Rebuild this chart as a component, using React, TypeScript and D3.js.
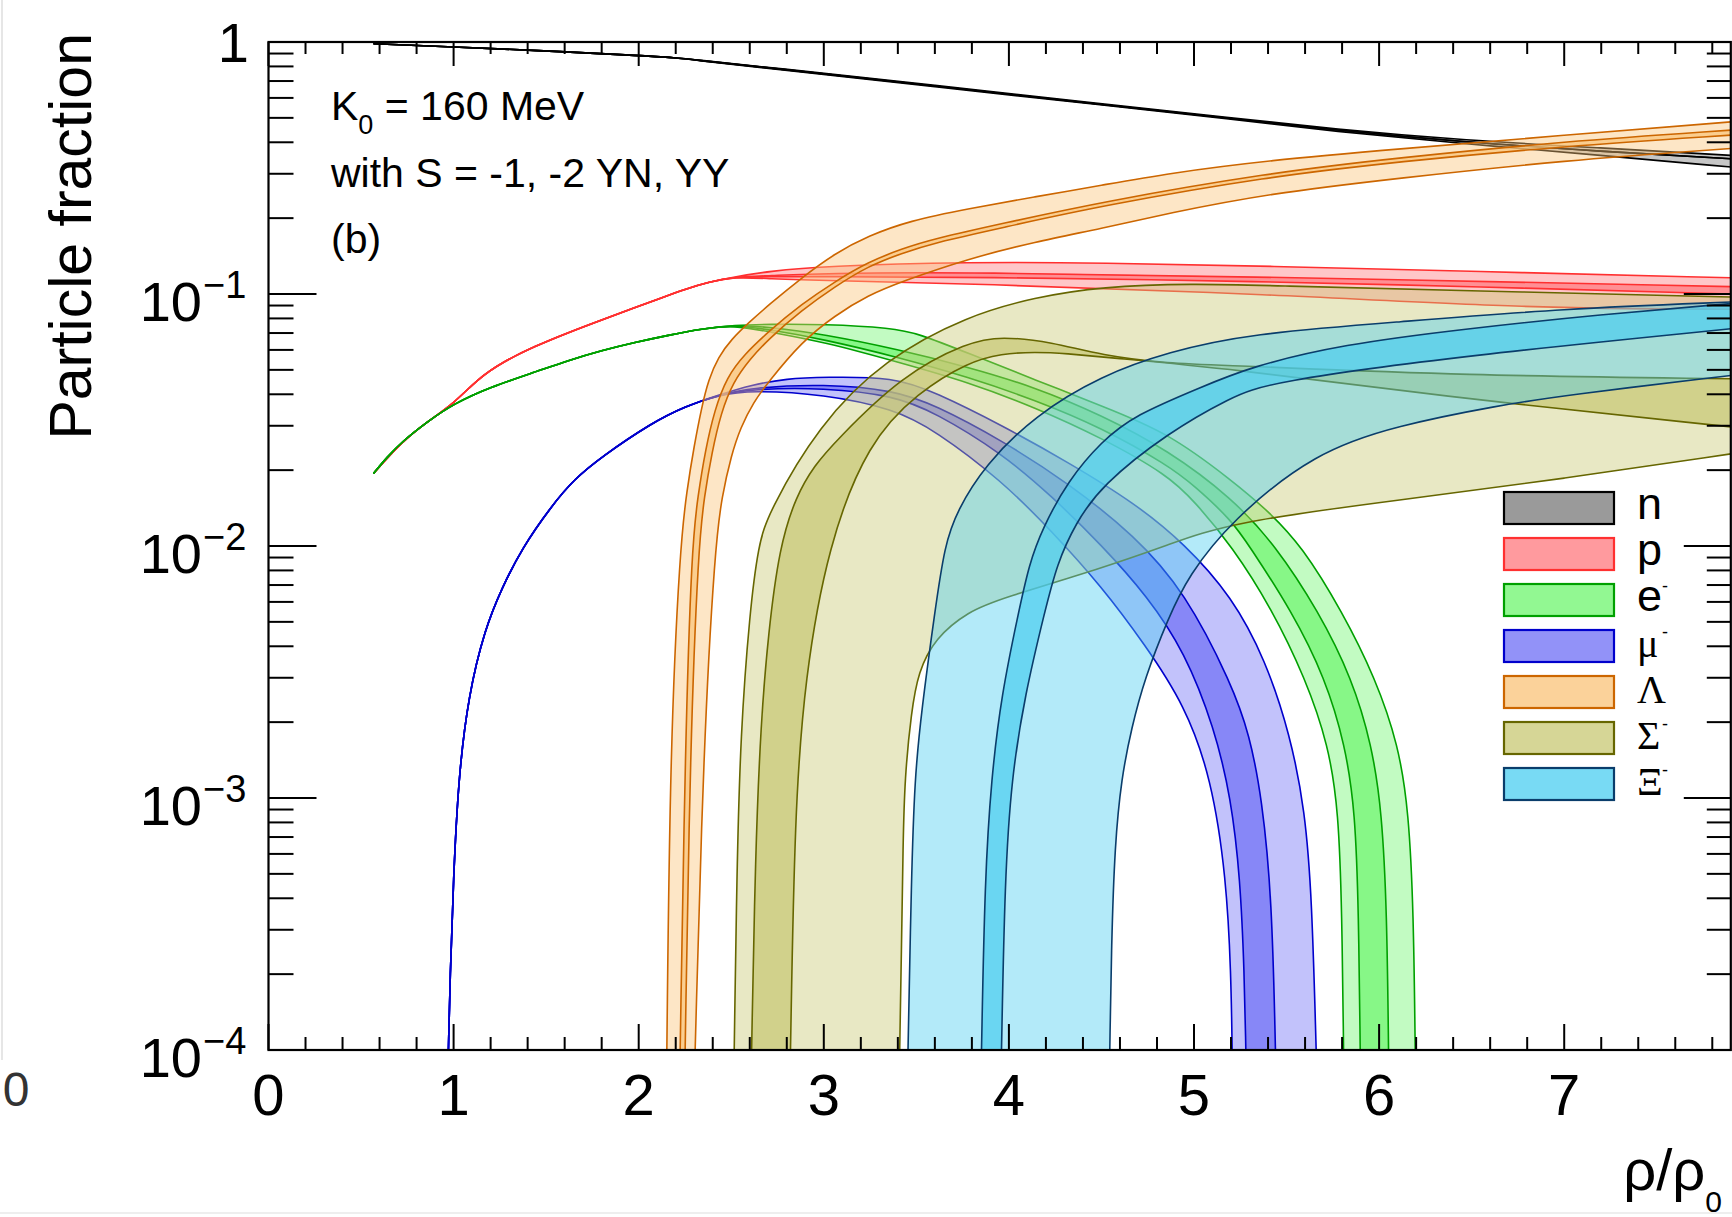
import React from 'react';
import * as d3 from 'd3';

const W = 1732;
const H = 1217;

// axis settings
const xDomain = [0, 7.9];
const yDomain = [1e-4, 1];
const xMajor = [0, 1, 2, 3, 4, 5, 6, 7];
const yDecadeExp = [0, -1, -2, -3, -4];

// ---- neutron ----
const nTop = [[0.567,0.985],[1.0,0.955],[1.44,0.927],[1.98,0.885],[2.2,0.867],[2.34,0.845],[2.7,0.794],[3.6,0.673],[4.5,0.569],[5.2,0.501],[5.75,0.452],[6.47,0.407],[7.2,0.380],[7.9,0.355]];
const nMid = [[0.567,0.985],[1.0,0.955],[1.44,0.927],[1.98,0.885],[2.2,0.867],[2.34,0.843],[2.7,0.79],[3.6,0.669],[4.5,0.565],[5.2,0.498],[5.75,0.448],[6.47,0.400],[7.2,0.368],[7.9,0.344]];
const nBottom = [[0.567,0.985],[1.0,0.955],[1.44,0.927],[1.98,0.885],[2.2,0.867],[2.34,0.840],[2.7,0.785],[3.6,0.665],[4.5,0.562],[5.2,0.495],[5.75,0.442],[6.47,0.394],[7.2,0.355],[7.9,0.319]];

// ---- proton ----
const pCommon = [[0.567,0.0194],[0.72,0.0259],[0.86,0.0312],[1.0,0.0367],[1.13,0.046],[1.26,0.0535],[1.44,0.0621],[1.62,0.0703],[1.8,0.0789],[1.98,0.0883],[2.12,0.0964],[2.25,0.1045],[2.38,0.1117],[2.52,0.117]];
const p1 = [...pCommon,[2.7,0.123],[3.0,0.129],[3.78,0.134],[4.5,0.133],[5.4,0.129],[6.5,0.123],[7.9,0.116]];
const p2 = [...pCommon,[2.7,0.118],[3.0,0.121],[3.78,0.122],[5.4,0.117],[7.9,0.107]];
const p3 = [...pCommon,[2.7,0.117],[3.0,0.117],[3.78,0.117],[5.4,0.112],[6.5,0.107],[7.9,0.100]];
const p4 = [...pCommon,[2.7,0.115],[3.0,0.113],[3.78,0.110],[5.4,0.100],[6.83,0.0875],[7.9,0.087]];

// ---- electron ----
const eCommon = [[0.567,0.0194],[0.64,0.0225],[0.72,0.0259],[0.86,0.0312],[1.0,0.0367],[1.2,0.0428],[1.44,0.049],[1.62,0.0545],[1.80,0.0597],[1.98,0.0643],[2.16,0.0686],[2.34,0.0728],[2.52,0.0752]];
const e1 = [...eCommon,[2.7,0.0759],[3.0,0.0759],[3.37,0.0733],[3.51,0.0697],[3.78,0.0582],[4.14,0.0457],[4.5,0.036],[4.86,0.0282],[5.205,0.0182],[5.40,0.0138],[5.583,0.0100],[5.80,0.0055],[5.98,0.00299],[6.105,0.00162],[6.16,0.000883],[6.186,0.000354],[6.195,0.0001]];
const e2 = [...eCommon,[2.7,0.0741],[3.0,0.0692],[3.4,0.0603],[3.78,0.0513],[4.14,0.0427],[4.5,0.0331],[4.86,0.024],[5.205,0.0155],[5.439,0.0101],[5.673,0.0055],[5.853,0.00299],[5.961,0.00162],[6.015,0.000883],[6.042,0.000354],[6.051,0.0001]];
const e3 = [...eCommon,[2.7,0.0724],[3.0,0.0661],[3.4,0.0562],[3.78,0.0468],[4.14,0.038],[4.5,0.0295],[4.86,0.0209],[5.0,0.0174],[5.205,0.0126],[5.295,0.0101],[5.529,0.0055],[5.709,0.00299],[5.817,0.00162],[5.871,0.000883],[5.889,0.000354],[5.898,0.0001]];
const e4 = [...eCommon,[2.7,0.0708],[3.0,0.0646],[3.4,0.0537],[3.78,0.0447],[4.14,0.0355],[4.5,0.0269],[4.86,0.0191],[5.0,0.0151],[5.205,0.0100],[5.421,0.00562],[5.601,0.00299],[5.727,0.00162],[5.781,0.000883],[5.799,0.000354],[5.808,0.0001]];

// ---- muon ----
const mCommon = [[0.972,0.0001],[0.981,0.000192],[0.999,0.000479],[1.026,0.0012],[1.08,0.00256],[1.17,0.00471],[1.26,0.00679],[1.369,0.0098],[1.53,0.01445],[1.65,0.01837],[1.80,0.0226],[2.07,0.0308],[2.25,0.0358],[2.43,0.0397]];
const m1 = [...mCommon,[2.61,0.0436],[2.8,0.0462],[3.0,0.0468],[3.38,0.0469],[3.6,0.0408],[3.96,0.0302],[4.32,0.0215],[4.68,0.0148],[4.95,0.0102],[5.205,0.0063],[5.385,0.00355],[5.52,0.00178],[5.6,0.00089],[5.637,0.0004],[5.66,0.0001]];
const m2 = [...mCommon,[2.61,0.0425],[3.0,0.0440],[3.38,0.0415],[3.6,0.0363],[3.96,0.0263],[4.32,0.0178],[4.68,0.011],[4.95,0.0066],[5.205,0.00282],[5.3,0.00178],[5.367,0.001],[5.421,0.0004],[5.44,0.0001]];
const m3 = [...mCommon,[2.61,0.042],[3.0,0.0425],[3.38,0.0395],[3.6,0.0339],[3.96,0.0234],[4.23,0.0158],[4.5,0.0101],[4.75,0.0063],[4.95,0.0038],[5.11,0.0019],[5.2,0.001],[5.25,0.000479],[5.272,0.0002],[5.28,0.0001]];
const m4 = [...mCommon,[2.61,0.0415],[3.0,0.040],[3.38,0.035],[3.6,0.0288],[3.96,0.0182],[4.23,0.01148],[4.5,0.00692],[4.734,0.00407],[4.95,0.00234],[5.094,0.0012],[5.175,0.000479],[5.2,0.0002],[5.206,0.0001]];

// ---- Lambda ----
const l1 = [[2.152,0.0001],[2.170,0.00162],[2.224,0.0101],[2.26,0.0166],[2.30,0.0251],[2.34,0.0355],[2.377,0.0457],[2.43,0.0562],[2.5,0.0661],[2.6,0.0776],[2.7,0.0902],[2.88,0.116],[3.06,0.145],[3.24,0.170],[3.46,0.195],[3.78,0.218],[4.14,0.243],[4.50,0.270],[4.86,0.301],[5.40,0.339],[6.1,0.376],[7.0,0.427],[7.9,0.482]];
const l2 = [[2.224,0.0001],[2.251,0.00162],[2.287,0.0101],[2.32,0.0158],[2.36,0.024],[2.41,0.0347],[2.476,0.0468],[2.57,0.0575],[2.7,0.0708],[2.88,0.0912],[3.06,0.112],[3.24,0.134],[3.42,0.151],[3.60,0.166],[3.96,0.190],[4.50,0.232],[5.40,0.302],[6.1,0.347],[7.0,0.403],[7.9,0.447]];
const l3 = [[2.251,0.0001],[2.278,0.00162],[2.323,0.0101],[2.355,0.0158],[2.395,0.0234],[2.445,0.0339],[2.51,0.0447],[2.6,0.055],[2.7,0.0661],[2.88,0.0861],[3.06,0.107],[3.24,0.129],[3.42,0.145],[3.6,0.160],[3.96,0.183],[4.5,0.224],[5.4,0.292],[6.1,0.335],[7.0,0.386],[7.9,0.427]];
const l4 = [[2.305,0.0001],[2.35,0.00162],[2.413,0.0101],[2.45,0.0158],[2.5,0.0229],[2.55,0.0295],[2.62,0.0372],[2.7,0.0447],[2.88,0.0646],[3.06,0.0822],[3.24,0.0989],[3.42,0.112],[3.78,0.138],[4.14,0.161],[4.50,0.182],[4.86,0.209],[5.40,0.25],[6.1,0.288],[7.0,0.339],[7.9,0.378]];

// ---- Sigma- ----
const s1 = [[2.516,0.0001],[2.53,0.0005],[2.55,0.0018],[2.60,0.0055],[2.647,0.0101],[2.70,0.0135],[2.97,0.0301],[3.33,0.0553],[3.78,0.0822],[4.14,0.097],[4.50,0.107],[5.0,0.110],[5.4,0.108],[6.5,0.103],[7.9,0.0973]];
const s2 = [[2.61,0.0001],[2.63,0.0006],[2.66,0.002],[2.70,0.0045],[2.76,0.0099],[2.85,0.0158],[2.95,0.0209],[3.06,0.0259],[3.42,0.0475],[3.78,0.0646],[3.96,0.0679],[4.23,0.0646],[4.50,0.0571],[4.86,0.053],[5.2,0.0521],[6.46,0.0475],[7.9,0.0461]];
const s3 = [[2.82,0.0001],[2.843,0.000883],[2.897,0.00299],[3.023,0.0101],[3.24,0.0259],[3.51,0.0408],[3.78,0.0537],[3.96,0.058],[4.14,0.0589],[4.32,0.058],[4.50,0.0562],[5.2,0.0506],[6.285,0.0396],[7.9,0.0297]];
const s4 = [[3.41,0.0001],[3.42,0.000261],[3.428,0.000652],[3.437,0.0012],[3.473,0.0022],[3.51,0.00316],[3.6,0.0043],[3.78,0.0055],[3.96,0.0062],[4.50,0.00815],[4.86,0.0101],[5.2,0.01245],[6.1,0.0152],[7.0,0.0185],[7.9,0.0232]];

// ---- Xi- ----
const x1 = [[3.455,0.0001],[3.473,0.000479],[3.491,0.0012],[3.527,0.0022],[3.60,0.0055],[3.653,0.0101],[3.72,0.0138],[3.87,0.0209],[4.14,0.033],[4.50,0.0475],[4.86,0.0589],[5.3,0.0696],[6.1,0.0774],[7.0,0.0875],[7.9,0.0929]];
const x2 = [[3.852,0.0001],[3.87,0.000479],[3.905,0.0012],[3.96,0.00257],[4.05,0.00537],[4.11,0.00851],[4.18,0.0117],[4.32,0.0182],[4.5,0.026],[4.68,0.0331],[5.04,0.0427],[5.3,0.0513],[5.8,0.0631],[6.47,0.0728],[7.2,0.083],[7.9,0.0916]];
const x3 = [[3.96,0.0001],[3.978,0.000479],[4.014,0.0012],[4.086,0.00256],[4.194,0.0055],[4.26,0.00851],[4.36,0.0123],[4.5,0.0174],[4.86,0.0282],[5.2,0.0389],[5.4,0.0447],[6.47,0.0571],[7.9,0.0728]];
const x4 = [[4.545,0.0001],[4.554,0.000261],[4.572,0.000652],[4.608,0.0012],[4.662,0.00189],[4.734,0.00299],[4.86,0.00516],[4.968,0.00759],[5.2,0.0126],[5.655,0.0236],[6.1,0.0301],[6.645,0.0361],[7.0,0.0396],[7.9,0.0475]];

const speciesNames = ['n', 'p', 'e', 'μ', 'Λ', 'Σ', 'Ξ'];
const speciesSup = ['', '', '-', '-', '', '-', '-'];
const speciesSerif = [false, false, false, true, true, true, true];
const lineColors = ['#000000', '#ff3030', '#00a000', '#0000cc', '#cc6600', '#666600', '#0a3d6b'];
const fillColors = ['rgb(120,120,120)', 'rgb(255,120,125)', 'rgb(110,245,110)', 'rgb(110,110,245)', 'rgb(250,195,120)', 'rgb(200,200,115)', 'rgb(75,205,240)'];
const speciesLines = [
  [nTop, nMid, nMid, nBottom],
  [p1, p2, p3, p4],
  [e1, e2, e3, e4],
  [m1, m2, m3, m4],
  [l1, l2, l3, l4],
  [s1, s2, s3, s4],
  [x1, x2, x3, x4],
];

export default function App() {
  const x = d3.scaleLinear().domain(xDomain).range([268.5, 1730.8]);
  const y = d3.scaleLog().domain(yDomain).range([1050, 42]);
  const X0 = x(xDomain[0]);
  const X1 = x(xDomain[1]);
  const Y0 = y(yDomain[0]);
  const Y1 = y(yDomain[1]);

  const lineGen = d3.line<number[]>()
    .x(d => x(d[0]))
    .y(d => y(d[1]))
    .curve(d3.curveBasis);

  const bandPath = (top: number[][], bottom: number[][]) => {
    const a = lineGen(top) as string;
    const b = lineGen([...bottom].reverse()) as string;
    return a + 'L' + b.slice(1) + 'Z';
  };

  const xMinor = d3.range(0, xDomain[1] + 1e-9, 0.2).filter(v => Math.abs(v - Math.round(v)) > 1e-6);
  const yMinor: number[] = [];
  for (let k = -4; k < 0; k++) for (let m = 2; m <= 9; m++) yMinor.push(m * Math.pow(10, k));

  const font = 'Liberation Sans, Arial, Helvetica, sans-serif';
  const serif = 'Liberation Serif, Times New Roman, DejaVu Serif, serif';

  const legendTop = 492;
  const legendStep = 46;

  return (
    <svg width={W} height={H} viewBox={`0 0 ${W} ${H}`} style={{ position: 'absolute', left: 0, top: 0, background: '#fff' }} fontFamily={font}>
      <rect x={0} y={0} width={W} height={H} fill="#fff" />
      <line x1={2} y1={0} x2={2} y2={1060} stroke="#e6e6e6" strokeWidth={2} />
      <line x1={0} y1={1213} x2={W} y2={1213} stroke="#eeeeee" strokeWidth={2} />
      <defs>
        <clipPath id="plotclip">
          <rect x={X0} y={Y1} width={X1 - X0} height={Y0 - Y1} />
        </clipPath>
      </defs>

      <g clipPath="url(#plotclip)">
        {speciesLines.map((ls, i) => (
          <g key={i}>
            <path d={bandPath(ls[0], ls[3])} fill={fillColors[i]} fillOpacity={0.42} stroke="none" />
            <path d={bandPath(ls[1], ls[2])} fill={fillColors[i]} fillOpacity={0.7} stroke="none" />
            {ls.map((l, j) => (
              <path key={j} d={lineGen(l) as string} fill="none" stroke={lineColors[i]} strokeWidth={1.6} />
            ))}
          </g>
        ))}
      </g>

      {/* frame */}
      <rect x={X0} y={Y1} width={X1 - X0} height={Y0 - Y1} fill="none" stroke="#000" strokeWidth={2.2} />

      {/* x ticks bottom & top */}
      {xMajor.map(v => (
        <g key={'xm' + v}>
          <line x1={x(v)} x2={x(v)} y1={Y0} y2={Y0 - 26} stroke="#000" strokeWidth={2} />
          <line x1={x(v)} x2={x(v)} y1={Y1} y2={Y1 + 24} stroke="#000" strokeWidth={2} />
          <text x={x(v)} y={1115} fontSize={58} textAnchor="middle" fill="#000">{v}</text>
        </g>
      ))}
      {xMinor.map(v => (
        <g key={'xn' + v}>
          <line x1={x(v)} x2={x(v)} y1={Y0} y2={Y0 - 13} stroke="#000" strokeWidth={2} />
          <line x1={x(v)} x2={x(v)} y1={Y1} y2={Y1 + 12} stroke="#000" strokeWidth={2} />
        </g>
      ))}

      {/* y ticks left & right */}
      {yDecadeExp.map(k => {
        const v = Math.pow(10, k);
        return (
          <g key={'ym' + k}>
            <line x1={X0} x2={X0 + 48} y1={y(v)} y2={y(v)} stroke="#000" strokeWidth={2} />
            <line x1={X1} x2={X1 - 47} y1={y(v)} y2={y(v)} stroke="#000" strokeWidth={2} />
            {k === 0 ? (
              <text x={249} y={y(v) + 20} fontSize={56} textAnchor="end" fill="#000">1</text>
            ) : (
              <g>
                <text x={202} y={y(v) + 27} fontSize={56} textAnchor="end" fill="#000">10</text>
                <text x={203} y={y(v) + 4} fontSize={38} textAnchor="start" fill="#000">{'\u2212' + (-k)}</text>
              </g>
            )}
          </g>
        );
      })}
      {yMinor.map((v, i) => (
        <g key={'yn' + i}>
          <line x1={X0} x2={X0 + 25} y1={y(v)} y2={y(v)} stroke="#000" strokeWidth={2} />
          <line x1={X1} x2={X1 - 24} y1={y(v)} y2={y(v)} stroke="#000" strokeWidth={2} />
        </g>
      ))}

      {/* axis titles */}
      <text transform="translate(91,33) rotate(-90)" fontSize={59} textAnchor="end" fill="#000">Particle fraction</text>
      <text x={1722} y={1190} fontSize={58} textAnchor="end" fill="#000">ρ/ρ<tspan fontSize={30} dy={22}>0</tspan></text>

      {/* fragment from neighbouring panel */}
      <text x={16} y={1106} fontSize={48} textAnchor="middle" fill="#333">0</text>

      {/* annotations */}
      <text x={331} y={120} fontSize={41} fill="#000">K<tspan fontSize={27} dy={14}>0</tspan><tspan dy={-14}> = 160 MeV</tspan></text>
      <text x={331} y={187} fontSize={41} fill="#000">with S = -1, -2 YN, YY</text>
      <text x={331} y={253} fontSize={41} fill="#000">(b)</text>

      {/* legend */}
      {speciesNames.map((nm, i) => {
        const top = legendTop + i * legendStep;
        return (
          <g key={'lg' + i}>
            <rect x={1504} y={top} width={110} height={32} fill={fillColors[i]} fillOpacity={0.75} stroke={lineColors[i]} strokeWidth={2.2} />
            <text x={1637} y={top + 27} fontSize={speciesSerif[i] ? 40 : 45} fontFamily={speciesSerif[i] ? serif : font} fill="#000">{nm}</text>
            {speciesSup[i] && (
              <text x={1662} y={top + 8} fontSize={18} fill="#000">{speciesSup[i]}</text>
            )}
          </g>
        );
      })}
    </svg>
  );
}
